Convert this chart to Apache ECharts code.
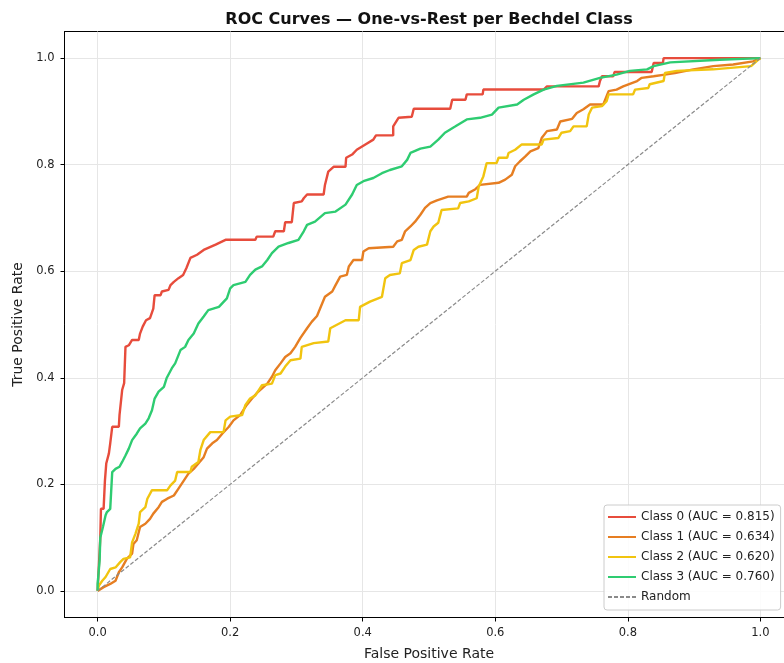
<!DOCTYPE html>
<html>
<head>
<meta charset="utf-8">
<script src="https://cdn.jsdelivr.net/npm/echarts@6/dist/echarts.min.js"></script>
<style>
html,body{margin:0;padding:0;background:#fff;overflow:hidden;}
#wrap{width:784px;height:663px;overflow:hidden;position:relative;}
#chart{width:820px;height:663px;position:absolute;left:0;top:0;}
</style>
</head>
<body>
<div id="wrap"><div id="chart"></div></div>
<script>
const title = 'ROC Curves — One-vs-Rest per Bechdel Class';
const classNames = ['Class 0 (AUC = 0.815)','Class 1 (AUC = 0.634)','Class 2 (AUC = 0.620)','Class 3 (AUC = 0.760)'];
const classColors = ['#e74c3c','#e67e22','#f1c40f','#2ecc71'];
const tickValues = [0, 0.2, 0.4, 0.6, 0.8, 1.0];

const class0 = [[0,0],[0.004,0.10],[0.005,0.154],[0.009,0.154],[0.011,0.207],[0.013,0.239],[0.017,0.258],[0.019,0.277],[0.022,0.308],[0.032,0.308],[0.033,0.33],[0.036,0.333],[0.037,0.377],[0.040,0.39],[0.042,0.458],[0.047,0.461],[0.052,0.471],[0.062,0.471],[0.064,0.483],[0.068,0.496],[0.073,0.508],[0.079,0.512],[0.084,0.530],[0.086,0.555],[0.095,0.555],[0.097,0.562],[0.107,0.565],[0.110,0.574],[0.115,0.58],[0.122,0.587],[0.129,0.593],[0.134,0.606],[0.140,0.625],[0.150,0.631],[0.160,0.64],[0.178,0.65],[0.193,0.659],[0.238,0.659],[0.240,0.665],[0.265,0.665],[0.268,0.675],[0.281,0.675],[0.283,0.692],[0.293,0.692],[0.296,0.728],[0.308,0.731],[0.311,0.737],[0.316,0.744],[0.341,0.744],[0.343,0.762],[0.348,0.787],[0.356,0.796],[0.374,0.796],[0.375,0.813],[0.384,0.819],[0.391,0.828],[0.404,0.838],[0.416,0.847],[0.420,0.855],[0.446,0.855],[0.446,0.872],[0.454,0.888],[0.474,0.89],[0.477,0.905],[0.532,0.905],[0.535,0.922],[0.555,0.922],[0.557,0.932],[0.581,0.932],[0.582,0.941],[0.673,0.941],[0.678,0.947],[0.756,0.947],[0.758,0.957],[0.761,0.966],[0.778,0.966],[0.780,0.974],[0.836,0.974],[0.839,0.991],[0.853,0.991],[0.854,1.0],[1,1]];

const class1 = [[0,0],[0.009,0.007],[0.019,0.013],[0.027,0.019],[0.032,0.035],[0.037,0.044],[0.044,0.06],[0.052,0.07],[0.054,0.088],[0.059,0.095],[0.064,0.12],[0.072,0.126],[0.079,0.135],[0.084,0.145],[0.092,0.157],[0.097,0.167],[0.105,0.173],[0.115,0.179],[0.122,0.192],[0.130,0.207],[0.137,0.22],[0.145,0.229],[0.152,0.239],[0.160,0.251],[0.165,0.267],[0.173,0.277],[0.180,0.283],[0.188,0.295],[0.198,0.308],[0.205,0.32],[0.215,0.33],[0.225,0.349],[0.233,0.361],[0.240,0.371],[0.248,0.38],[0.256,0.389],[0.263,0.402],[0.268,0.414],[0.276,0.427],[0.283,0.439],[0.291,0.446],[0.298,0.458],[0.306,0.475],[0.316,0.493],[0.323,0.505],[0.331,0.516],[0.338,0.537],[0.343,0.552],[0.354,0.562],[0.359,0.574],[0.366,0.59],[0.376,0.593],[0.379,0.609],[0.386,0.621],[0.399,0.621],[0.401,0.637],[0.409,0.643],[0.446,0.646],[0.452,0.656],[0.459,0.659],[0.464,0.675],[0.472,0.684],[0.479,0.693],[0.487,0.706],[0.494,0.719],[0.502,0.728],[0.512,0.733],[0.529,0.74],[0.557,0.74],[0.560,0.747],[0.570,0.754],[0.577,0.762],[0.605,0.766],[0.615,0.772],[0.625,0.781],[0.630,0.797],[0.637,0.806],[0.645,0.815],[0.653,0.825],[0.665,0.831],[0.670,0.85],[0.678,0.863],[0.693,0.866],[0.698,0.881],[0.716,0.886],[0.723,0.897],[0.733,0.904],[0.743,0.913],[0.763,0.913],[0.771,0.938],[0.783,0.941],[0.793,0.947],[0.814,0.957],[0.821,0.963],[0.839,0.966],[0.856,0.969],[0.871,0.972],[0.899,0.979],[0.929,0.985],[0.959,0.988],[0.989,0.994],[1,1]];

const class2 = [[0,0],[0.002,0.01],[0.007,0.019],[0.012,0.026],[0.019,0.041],[0.027,0.044],[0.034,0.054],[0.039,0.06],[0.049,0.063],[0.052,0.091],[0.057,0.107],[0.062,0.126],[0.064,0.148],[0.072,0.157],[0.075,0.173],[0.082,0.189],[0.105,0.189],[0.110,0.198],[0.117,0.207],[0.120,0.223],[0.140,0.223],[0.142,0.233],[0.152,0.242],[0.155,0.264],[0.160,0.283],[0.170,0.298],[0.190,0.298],[0.193,0.32],[0.200,0.327],[0.218,0.33],[0.223,0.349],[0.230,0.361],[0.238,0.367],[0.248,0.386],[0.263,0.389],[0.268,0.405],[0.276,0.408],[0.283,0.421],[0.291,0.433],[0.306,0.436],[0.308,0.458],[0.326,0.465],[0.348,0.468],[0.351,0.493],[0.374,0.508],[0.394,0.508],[0.396,0.533],[0.411,0.543],[0.429,0.552],[0.434,0.587],[0.441,0.593],[0.456,0.596],[0.459,0.615],[0.472,0.621],[0.477,0.64],[0.484,0.646],[0.497,0.65],[0.502,0.675],[0.507,0.684],[0.514,0.691],[0.519,0.715],[0.544,0.718],[0.547,0.728],[0.560,0.731],[0.572,0.737],[0.575,0.759],[0.582,0.778],[0.587,0.803],[0.602,0.803],[0.605,0.813],[0.618,0.813],[0.620,0.822],[0.630,0.828],[0.640,0.838],[0.670,0.838],[0.673,0.847],[0.695,0.85],[0.700,0.86],[0.713,0.863],[0.718,0.872],[0.738,0.872],[0.741,0.894],[0.746,0.907],[0.761,0.91],[0.768,0.919],[0.771,0.932],[0.808,0.932],[0.811,0.941],[0.831,0.944],[0.833,0.951],[0.854,0.957],[0.856,0.972],[0.874,0.976],[0.929,0.979],[0.986,0.985],[0.994,0.994],[1,1]];

const class3 = [[0,0],[0,0.013],[0.003,0.057],[0.004,0.1],[0.008,0.12],[0.012,0.142],[0.014,0.148],[0.019,0.154],[0.022,0.223],[0.027,0.229],[0.033,0.233],[0.037,0.242],[0.042,0.254],[0.047,0.267],[0.052,0.283],[0.059,0.295],[0.064,0.305],[0.072,0.314],[0.077,0.324],[0.082,0.339],[0.086,0.361],[0.092,0.374],[0.100,0.383],[0.104,0.399],[0.112,0.418],[0.117,0.427],[0.125,0.452],[0.132,0.458],[0.137,0.471],[0.145,0.483],[0.152,0.502],[0.160,0.515],[0.167,0.527],[0.183,0.533],[0.195,0.549],[0.200,0.568],[0.205,0.574],[0.223,0.58],[0.230,0.593],[0.238,0.603],[0.248,0.609],[0.256,0.621],[0.263,0.634],[0.273,0.646],[0.288,0.653],[0.303,0.659],[0.311,0.675],[0.316,0.687],[0.328,0.693],[0.343,0.709],[0.359,0.712],[0.374,0.725],[0.384,0.744],[0.391,0.762],[0.401,0.769],[0.416,0.775],[0.429,0.784],[0.441,0.79],[0.459,0.797],[0.467,0.809],[0.472,0.822],[0.487,0.83],[0.502,0.834],[0.514,0.847],[0.524,0.86],[0.540,0.872],[0.557,0.885],[0.577,0.888],[0.595,0.894],[0.605,0.907],[0.633,0.913],[0.643,0.922],[0.658,0.932],[0.673,0.941],[0.693,0.948],[0.733,0.954],[0.758,0.963],[0.783,0.969],[0.803,0.976],[0.829,0.979],[0.839,0.985],[0.864,0.992],[0.939,0.997],[1,1]];

const randomLine = [[0,0],[1,1]];
const classData = [class0, class1, class2, class3];

const FONT = '"DejaVu Sans", sans-serif';
const chart = echarts.init(document.getElementById('chart'), null, {renderer:'canvas'});

const series = classData.map((d, i) => ({
  name: classNames[i],
  type: 'line',
  data: d,
  symbol: 'none',
  showSymbol: false,
  animation: false,
  lineStyle: {color: classColors[i], width: 2.4},
  itemStyle: {color: classColors[i]},
  z: 3 + i
}));
series.push({
  name: 'Random',
  type: 'line',
  data: randomLine,
  symbol: 'none',
  showSymbol: false,
  animation: false,
  lineStyle: {color: '#8a8a8a', width: 1.2, type: [4, 2]},
  itemStyle: {color: '#8a8a8a'},
  z: 8
});

const axisCommon = {
  type: 'value',
  min: -0.05,
  max: 1.05,
  nameLocation: 'middle',
  nameTextStyle: {fontFamily: FONT, fontSize: 14, color: '#222'},
  axisLine: {show: true, onZero: false, lineStyle: {color: '#000', width: 1}},
  axisTick: {show: true, length: 4, lineStyle: {color: '#000'}, customValues: tickValues},
  axisLabel: {fontFamily: FONT, fontSize: 11.5, color: '#222', customValues: tickValues,
              formatter: v => v.toFixed(1)},
  splitLine: {show: true, lineStyle: {color: '#e6e6e6', width: 1}}
};

chart.setOption({
  backgroundColor: '#fff',
  animation: false,
  title: {
    text: title,
    left: 424,
    textAlign: 'center',
    top: 7,
    textStyle: {fontFamily: FONT, fontSize: 16, fontWeight: 'bold', color: '#111'}
  },
  grid: {left: 64.5, top: 31.5, width: 729, height: 586, show: true,
         outerBoundsMode: 'none', containLabel: false,
         borderColor: '#000', borderWidth: 1, backgroundColor: 'transparent'},
  xAxis: Object.assign({}, axisCommon, {name: 'False Positive Rate', nameGap: 30,
          axisLabel: Object.assign({}, axisCommon.axisLabel, {margin: 10})}),
  yAxis: Object.assign({}, axisCommon, {name: 'True Positive Rate', nameGap: 36,
          axisLabel: Object.assign({}, axisCommon.axisLabel, {margin: 10})}),
  legend: {
    orient: 'vertical',
    left: 604,
    top: 505,
    itemWidth: 28,
    itemHeight: 14,
    itemGap: 6,
    padding: [5, 6, 6, 3],
    backgroundColor: 'rgba(255,255,255,0.85)',
    borderColor: '#cccccc',
    borderWidth: 1,
    borderRadius: 3,
    itemStyle: {opacity: 0},
    textStyle: {fontFamily: FONT, fontSize: 12, color: '#222', lineHeight: 14},
    data: classNames.concat(['Random'])
  },
  series: series
});
</script>
</body>
</html>
